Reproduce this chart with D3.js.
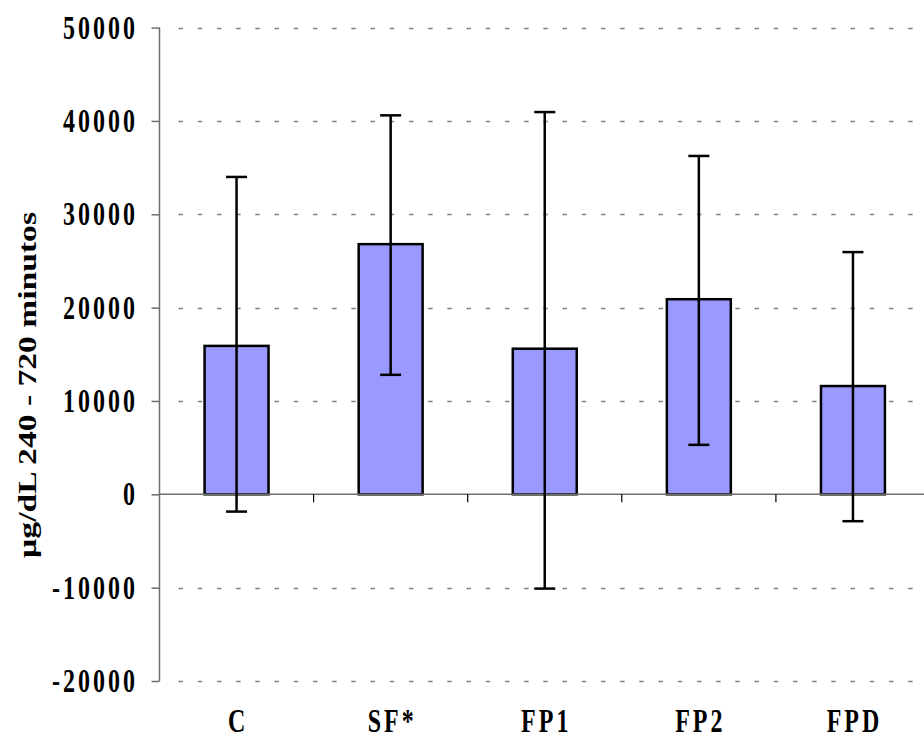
<!DOCTYPE html>
<html>
<head>
<meta charset="utf-8">
<script src="https://cdn.jsdelivr.net/npm/d3@7"></script>
<style>
  html, body { margin: 0; padding: 0; background: #fff; }
  svg { display: block; }
</style>
</head>
<body>
<div id="chart"></div>
<script>
(function () {
  'use strict';

  // --- Data ---
  const categories = ['C', 'SF*', 'FP1', 'FP2', 'FPD'];
  const means = [15900, 26800, 15600, 20900, 11600];
  const errHigh = [34000, 40600, 40950, 36250, 25950];
  const errLow = [-1850, 12800, -10100, 5300, -2880];
  const yTicks = [-20000, -10000, 0, 10000, 20000, 30000, 40000, 50000];
  const yLabel = 'µg/dL 240 - 720 minutos';

  const COLORS = {
    bar: '#9999FF',
    stroke: '#000000',
    axis: '#6e6e6e',
    grid: '#808080',
    text: '#000000',
  };
  const FONT = '"Liberation Serif", "Times New Roman", serif';
  const STRETCH = 1.36;

  const W = 924, H = 738;
  const x0 = 159.5, x1 = 930;
  const yTop = 27.6, yBottom = 681;

  const svg = d3.select('#chart').append('svg')
    .attr('width', W).attr('height', H);

  const x = d3.scaleBand()
    .domain(categories)
    .range([x0, x1])
    .paddingInner(0.585)
    .paddingOuter(0.2925);

  const y = d3.scaleLinear()
    .domain([-20000, 50000])
    .range([yBottom, yTop]);

  const step = x.step();

  // Grid lines (dashed, not at zero)
  svg.append('g')
    .selectAll('line')
    .data(yTicks.filter(d => d !== 0))
    .join('line')
    .attr('x1', x0 + 19).attr('x2', x1)
    .attr('y1', d => Math.round(y(d)) + 0.5).attr('y2', d => Math.round(y(d)) + 0.5)
    .attr('stroke', COLORS.grid)
    .attr('stroke-width', 1.3)
    .attr('stroke-dasharray', '4.5,14.7');

  // Y axis
  const yAxis = svg.append('g')
    .attr('transform', `translate(${x0},0)`)
    .call(d3.axisLeft(y).tickValues(yTicks).tickSize(8).tickFormat(''));
  yAxis.selectAll('.domain').attr('stroke', COLORS.axis).attr('stroke-width', 1.5)
    .attr('d', `M0,${yTop}V${yBottom}`);
  yAxis.selectAll('.tick line').attr('stroke', COLORS.axis).attr('stroke-width', 1.5);

  // Y tick labels (stretched bold serif)
  svg.append('g')
    .selectAll('text')
    .data(yTicks)
    .join('text')
    .attr('transform', d => `translate(138,${y(d) + 11}) scale(1,${STRETCH})`)
    .attr('text-anchor', 'end')
    .attr('font-family', FONT)
    .attr('font-weight', 'bold')
    .attr('font-size', '24px')
    .attr('letter-spacing', '3px')
    .attr('fill', COLORS.text)
    .text(d => d);

  // Bars
  svg.append('g')
    .selectAll('rect')
    .data(categories)
    .join('rect')
    .attr('x', d => x(d))
    .attr('y', (d, i) => y(means[i]))
    .attr('width', x.bandwidth())
    .attr('height', (d, i) => y(0) - y(means[i]))
    .attr('fill', COLORS.bar)
    .attr('stroke', COLORS.stroke)
    .attr('stroke-width', 2.5);

  // X axis at zero
  const xAxisG = svg.append('g')
    .attr('transform', `translate(0,${y(0)})`);
  xAxisG.append('line')
    .attr('x1', x0).attr('x2', W)
    .attr('stroke', COLORS.axis).attr('stroke-width', 1.5);
  xAxisG.selectAll('line.tk')
    .data(categories.slice(1))
    .join('line')
    .attr('class', 'tk')
    .attr('x1', d => x(d) - (step - x.bandwidth()) / 2)
    .attr('x2', d => x(d) - (step - x.bandwidth()) / 2)
    .attr('y1', 0).attr('y2', 8)
    .attr('stroke', COLORS.stroke).attr('stroke-width', 1.2);

  // Error bars
  const eb = svg.append('g')
    .selectAll('g')
    .data(categories)
    .join('g')
    .attr('transform', d => `translate(${x(d) + x.bandwidth() / 2},0)`);
  eb.append('line')
    .attr('y1', (d, i) => y(errLow[i]))
    .attr('y2', (d, i) => y(errHigh[i]))
    .attr('stroke', COLORS.stroke).attr('stroke-width', 2.5);
  eb.append('line')
    .attr('x1', -10.5).attr('x2', 10.5)
    .attr('y1', (d, i) => y(errHigh[i])).attr('y2', (d, i) => y(errHigh[i]))
    .attr('stroke', COLORS.stroke).attr('stroke-width', 2.5);
  eb.append('line')
    .attr('x1', -10.5).attr('x2', 10.5)
    .attr('y1', (d, i) => y(errLow[i])).attr('y2', (d, i) => y(errLow[i]))
    .attr('stroke', COLORS.stroke).attr('stroke-width', 2.5);

  // Category labels
  svg.append('g')
    .selectAll('text')
    .data(categories)
    .join('text')
    .attr('transform', d => `translate(${x(d) + x.bandwidth() / 2 + 1.5},732) scale(1,${STRETCH})`)
    .attr('text-anchor', 'middle')
    .attr('font-family', FONT)
    .attr('font-weight', 'bold')
    .attr('font-size', '24px')
    .attr('letter-spacing', '3px')
    .attr('fill', COLORS.text)
    .text(d => d);

  // Y axis title
  svg.append('text')
    .attr('transform', 'translate(36,385) rotate(-90)')
    .attr('text-anchor', 'middle')
    .attr('font-family', FONT)
    .attr('font-weight', 'bold')
    .attr('font-size', '25px')
    .attr('textLength', 346)
    .attr('lengthAdjust', 'spacingAndGlyphs')
    .attr('fill', COLORS.text)
    .text(yLabel);
})();
</script>
</body>
</html>
